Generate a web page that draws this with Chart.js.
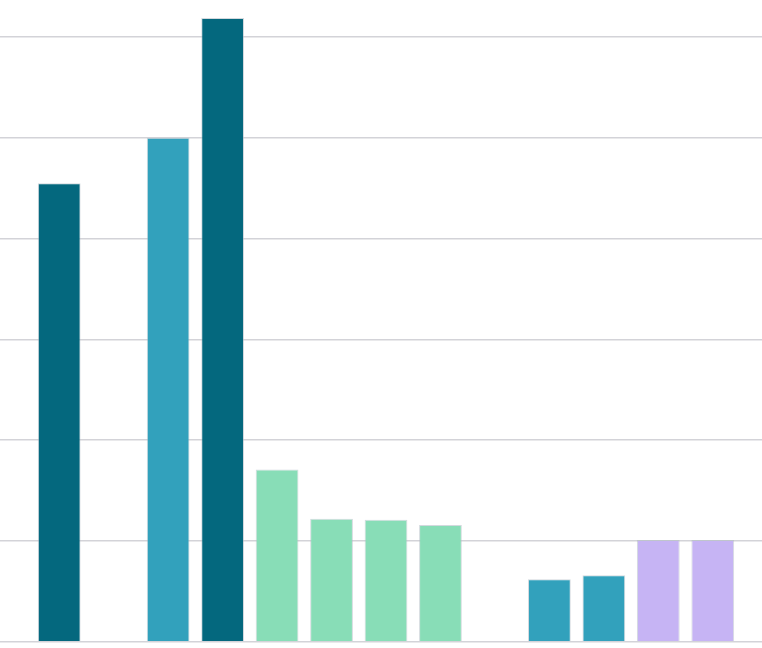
<!DOCTYPE html>
<html>
<head>
<meta charset="utf-8">
<script src="https://cdn.jsdelivr.net/npm/chart.js@4"></script>
<style>
html,body{margin:0;padding:0;background:#ffffff;}
#wrap{width:762px;height:648px;position:relative;}
</style>
</head>
<body>
<div id="wrap"><canvas id="c"></canvas></div>
<script>
// Data
const categories = ['1','2','3','4','5','6','7','8','9','10','11','12','13'];
const values = [4.55, null, 5.0, 6.19, 1.71, 1.22, 1.21, 1.16, null, 0.62, 0.66, 1.01, 1.01];
const groups = ['dark', null, 'light', 'dark', 'mint', 'mint', 'mint', 'mint', null, 'light', 'light', 'lavender', 'lavender'];
const yTicks = [0, 1, 2, 3, 4, 5, 6];

// Styles
const palette = {dark:'#04687e', light:'#32a1bc', mint:'#88ddb7', lavender:'#c6b4f4'};
const gridColor = '#d3d3d8';

const onlyTicks = (scale) => {
  scale.ticks = yTicks.map(v => ({value: v}));
};

new Chart(document.getElementById('c'), {
  type: 'bar',
  data: {
    labels: categories,
    datasets: [{
      data: values,
      backgroundColor: groups.map(g => g ? palette[g] : 'transparent'),
      borderColor: 'rgba(175,185,195,0.55)',
      borderWidth: 1,
      categoryPercentage: 1,
      barPercentage: 0.785
    }]
  },
  options: {
    responsive: true,
    maintainAspectRatio: false,
    animation: false,
    layout: {padding: {top: 6.8, bottom: 6.2, left: 0, right: 0}},
    plugins: {legend: {display: false}, tooltip: {enabled: false}},
    scales: {
      x: {display: false},
      y: {
        position: 'left',
        min: 0, max: 6.3,
        afterBuildTicks: onlyTicks,
        ticks: {display: false},
        border: {display: false},
        grid: {color: gridColor, lineWidth: 1.5, drawTicks: true, tickLength: 32}
      },
      y2: {
        position: 'right',
        min: 0, max: 6.3,
        afterBuildTicks: onlyTicks,
        ticks: {display: false},
        border: {display: false},
        grid: {color: gridColor, lineWidth: 1.5, drawOnChartArea: false, drawTicks: true, tickLength: 22}
      }
    }
  }
});
</script>
</body>
</html>
